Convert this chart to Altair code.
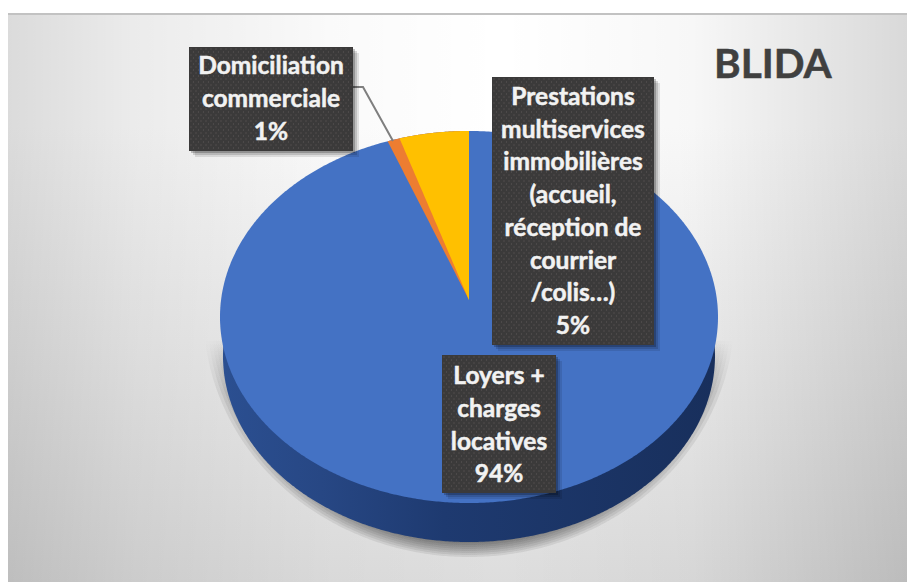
import numpy as np
import pandas as pd
import altair as alt

# ---- data -------------------------------------------------------------
categories = ["Loyers + charges locatives", "Domiciliation commerciale",
              "Prestations multiservices immobilières (accueil, réception de courrier /colis…)"]
shares = [94.7, 0.8, 4.5]
colors = ["#4472c4", "#ed7d31", "#ffc000"]

label_lines = [
    ["Domiciliation", "commerciale", "1%"],
    ["Prestations", "multiservices", "immobilières", "(accueil,", "réception de", "courrier", "/colis…)", "5%"],
    ["Loyers +", "charges", "locatives", "94%"],
]
title_text = "BLIDA"

# ---- layout (page pixels are used as the scale domains) ----------------
FRAME = (8, 13, 907, 582)
CX, CY, RX, RY = 469, 317, 249, 186
APEX_Y = 300
DEPTH = 39
boxes = [(189, 47, 353, 151, 67), (492, 77, 654, 345, 98), (442, 355, 556, 493, 377)]
LINE_STEP = [33, 32.7, 32.8]
BOX_CX = [271, 573, 499]

xs = alt.Scale(domain=[8, 907], nice=False, zero=False)
ys = alt.Scale(domain=[582, 8], nice=False, zero=False)
X = alt.X("x:Q", scale=xs, axis=None)
Y = alt.Y("y:Q", scale=ys, axis=None)
X2 = alt.X2("x2:Q")
Y2 = alt.Y2("y2:Q")


def ellipse(cx, cy, rx, ry, n=361):
    t = np.linspace(-np.pi / 2, np.pi / 2, n)
    x = cx + rx * np.sin(t)
    h = ry * np.cos(t)
    return pd.DataFrame({"x": x, "y": cy - h, "y2": cy + h})


def area(df, fill):
    return alt.Chart(df).mark_area(fill=fill, stroke=None, strokeWidth=0).encode(x=X, y=Y, y2=Y2)


def wedge(cum_share, fill):
    th = 2 * np.pi * cum_share / 100
    x_end = CX - RX * np.sin(th)
    y_end = CY - RY * np.cos(th)
    x = np.linspace(x_end, CX, 80)
    top = CY - RY * np.sqrt(np.clip(1 - ((x - CX) / RX) ** 2, 0, 1))
    low = APEX_Y + (y_end - APEX_Y) * (CX - x) / (CX - x_end)
    return area(pd.DataFrame({"x": x, "y": top, "y2": low}), fill)


layers = []

# background
bg = pd.DataFrame([{"x": FRAME[0], "x2": FRAME[2], "y": FRAME[1], "y2": FRAME[3]}])
layers.append(alt.Chart(bg).mark_rect(fill=alt.LinearGradient(
    gradient="linear", x1=0, x2=0, y1=0, y2=1,
    stops=[alt.GradientStop(offset=0, color="#ffffff"), alt.GradientStop(offset=0.2, color="#ffffff"),
           alt.GradientStop(offset=0.6, color="#efefef"), alt.GradientStop(offset=1, color="#dddddd")])
).encode(x=X, x2=X2, y=Y, y2=Y2))
layers.append(alt.Chart(bg).mark_rect(fill=alt.LinearGradient(
    gradient="linear", x1=0, x2=1, y1=0, y2=0,
    stops=[alt.GradientStop(offset=0, color="rgba(0,0,0,0.14)"), alt.GradientStop(offset=0.14, color="rgba(0,0,0,0.08)"),
           alt.GradientStop(offset=0.36, color="rgba(0,0,0,0.02)"), alt.GradientStop(offset=0.55, color="rgba(0,0,0,0)"),
           alt.GradientStop(offset=0.76, color="rgba(0,0,0,0.03)"), alt.GradientStop(offset=1, color="rgba(0,0,0,0.15)")])
).encode(x=X, x2=X2, y=Y, y2=Y2))
layers.append(alt.Chart(pd.DataFrame([{"x": 8, "x2": 907, "y": 14}])).mark_rule(color="#c2c2c2", strokeWidth=2)
              .encode(x=X, x2=X2, y=Y))

# soft shadow below the pie
for k in range(8):
    grad = alt.LinearGradient(gradient="linear", x1=0, x2=0, y1=0, y2=1,
                              stops=[alt.GradientStop(offset=0, color="rgba(0,0,0,0)"),
                                     alt.GradientStop(offset=0.1, color="rgba(0,0,0,0)"),
                                     alt.GradientStop(offset=0.32, color="rgba(0,0,0,0.07)"),
                                     alt.GradientStop(offset=1, color="rgba(0,0,0,0.075)")])
    d = ellipse(CX, 315, 240 + 3.6 * k, 228 + 2.0 * k)
    d["y"] = 315
    layers.append(area(d, grad))

# side of the pie
side_grad = alt.LinearGradient(gradient="linear", x1=0, x2=1, y1=0, y2=0,
                               stops=[alt.GradientStop(offset=0, color="#2b4f91"),
                                      alt.GradientStop(offset=0.2, color="#274784"),
                                      alt.GradientStop(offset=0.45, color="#1e3a70"),
                                      alt.GradientStop(offset=1, color="#182f5c")])
layers.append(area(ellipse(CX, CY + DEPTH, RX - 3, RY), side_grad))

# top face; slices are painted from the biggest down, cumulative from 12 o'clock going left
layers.append(area(ellipse(CX, CY, RX, RY), colors[0]))
layers.append(wedge(shares[1] + shares[2], colors[1]))
layers.append(wedge(shares[2], colors[2]))

# leader line
leader = pd.DataFrame({"x": [353, 363, 393], "y": [87, 87, 141], "o": [0, 1, 2]})
layers.append(alt.Chart(leader).mark_line(color="#7f7f7f", strokeWidth=2)
              .encode(x=X, y=Y, order="o:O"))

# data label boxes
for off, op in [(6, 0.10), (4, 0.14), (2, 0.22)]:
    sh = pd.DataFrame([{"x": a + off, "x2": c + off, "y": b + off, "y2": d + off} for a, b, c, d, _ in boxes])
    layers.append(alt.Chart(sh).mark_rect(fill="#000000", opacity=op).encode(x=X, x2=X2, y=Y, y2=Y2))
bx = pd.DataFrame([{"x": a, "x2": c, "y": b, "y2": d} for a, b, c, d, _ in boxes])
layers.append(alt.Chart(bx).mark_rect(fill="#3b3a3a").encode(x=X, x2=X2, y=Y, y2=Y2))

# stipple texture of the boxes
dots = []
for a, b, c, d, _ in boxes:
    for j, yy in enumerate(np.arange(b + 2, d - 1, 3.0)):
        for xx in np.arange(a + 2 + (j % 2) * 2.5, c - 1, 5.0):
            dots.append({"x": xx, "y": yy})
layers.append(alt.Chart(pd.DataFrame(dots)).mark_circle(size=2.0, color="#625e5e", opacity=0.7)
              .encode(x=X, y=Y))

# label text
rows = []
for lines, box, step, cx in zip(label_lines, boxes, LINE_STEP, BOX_CX):
    for i, line in enumerate(lines):
        rows.append({"x": cx, "y": box[4] + i * step, "t": line})
layers.append(alt.Chart(pd.DataFrame(rows)).mark_text(
    font="Lato", fontWeight="bold", fontSize=24.5, color="#f2f2f2", align="center", baseline="middle",
    stroke="#f2f2f2", strokeWidth=0.5
).encode(x=X, y=Y, text="t:N"))

# title
layers.append(alt.Chart(pd.DataFrame([{"x": 714, "y": 66, "t": title_text}])).mark_text(
    font="Lato", fontWeight="bold", fontSize=40.5, color="#404040", align="left", baseline="middle",
    stroke="#404040", strokeWidth=0.5
).encode(x=X, y=Y, text="t:N"))

chart = alt.layer(*layers).properties(
    width=899, height=574, padding=0, autosize=alt.AutoSizeParams(type="none"),
    background="#ffffff"
).configure_view(stroke=None)

chart.save("out.html", embed_options={"renderer": "svg", "actions": False})
